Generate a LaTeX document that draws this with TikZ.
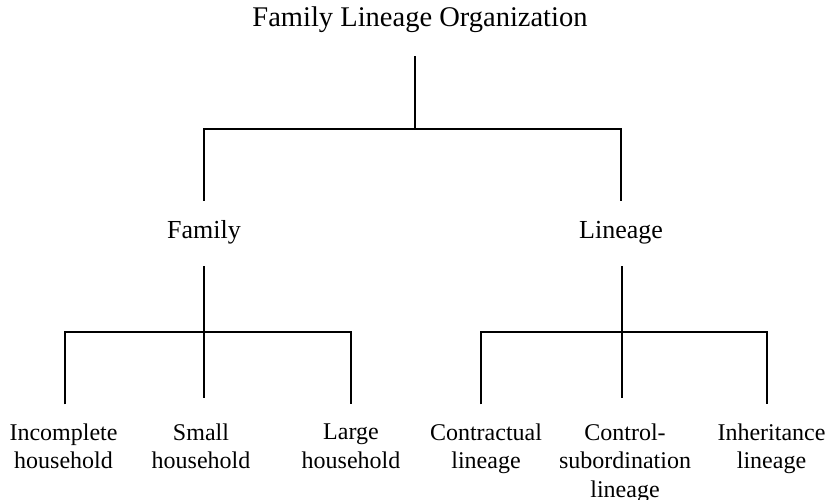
\documentclass[tikz,border=0pt]{standalone}
\usepackage{fontspec}
\setmainfont{Liberation Serif}

\begin{document}
\begin{tikzpicture}[x=1pt, y=-1pt, line width=2.9pt,
    rootlbl/.style={font=\fontsize{28.5}{34}\selectfont, inner sep=0pt, anchor=base},
    midlbl/.style={font=\fontsize{26}{31}\selectfont, inner sep=0pt, anchor=base},
    leaflbl/.style={font=\fontsize{24}{28.5}\selectfont, inner sep=0pt, anchor=north, align=center}]
    \useasboundingbox (0,0) rectangle (828,500);
    % labels
    \node[rootlbl] (org) at (420,26.5) {Family Lineage Organization};
    \node[midlbl] (fam) at (204,238) {Family};
    \node[midlbl] (lin) at (621,238) {Lineage};
    \node[leaflbl] (inc) at (63.5,422) {Incomplete\\household};
    \node[leaflbl] (sml) at (201,422) {Small\\household};
    \node[leaflbl] (lrg) at (351,422.6) {Large\\household};
    \node[leaflbl] (con) at (486,422) {Contractual\\lineage};
    \node[leaflbl] (ctl) at (625,422) {Control-\\subordination\\lineage};
    \node[leaflbl] (inh) at (771.5,422) {Inheritance\\lineage};
    % junctions
    \coordinate (rootj) at (415,129);
    \coordinate (famj) at (204,332);
    \coordinate (linj) at (622,332);
    \coordinate (fl) at (65,332);
    \coordinate (fr) at (351,332);
    \coordinate (ll) at (481,332);
    \coordinate (lr) at (767,332);
    % top level
    \draw[shorten <=22.3pt] (org.south -| rootj) -- (rootj);
    \draw[shorten <=18pt, shorten >=18pt] (fam.north) |- (rootj) -| (lin.north);
    \draw[shorten <=21.4pt] (fam.south) -- (famj);
    \draw[shorten <=21.4pt] (lin.south -| linj) -- (linj);
    % family branch
    \draw[shorten <=17.6pt, shorten >=18.2pt] (fl |- inc.north) -- (fl) -- (fr) -- (fr |- lrg.north);
    \draw[shorten >=23.6pt] (famj) -- (famj |- sml.north);
    % lineage branch
    \draw[shorten <=17.6pt, shorten >=17.6pt] (ll |- con.north) -- (ll) -- (lr) -- (lr |- inh.north);
    \draw[shorten >=23.6pt] (linj) -- (linj |- ctl.north);
\end{tikzpicture}
\end{document}
